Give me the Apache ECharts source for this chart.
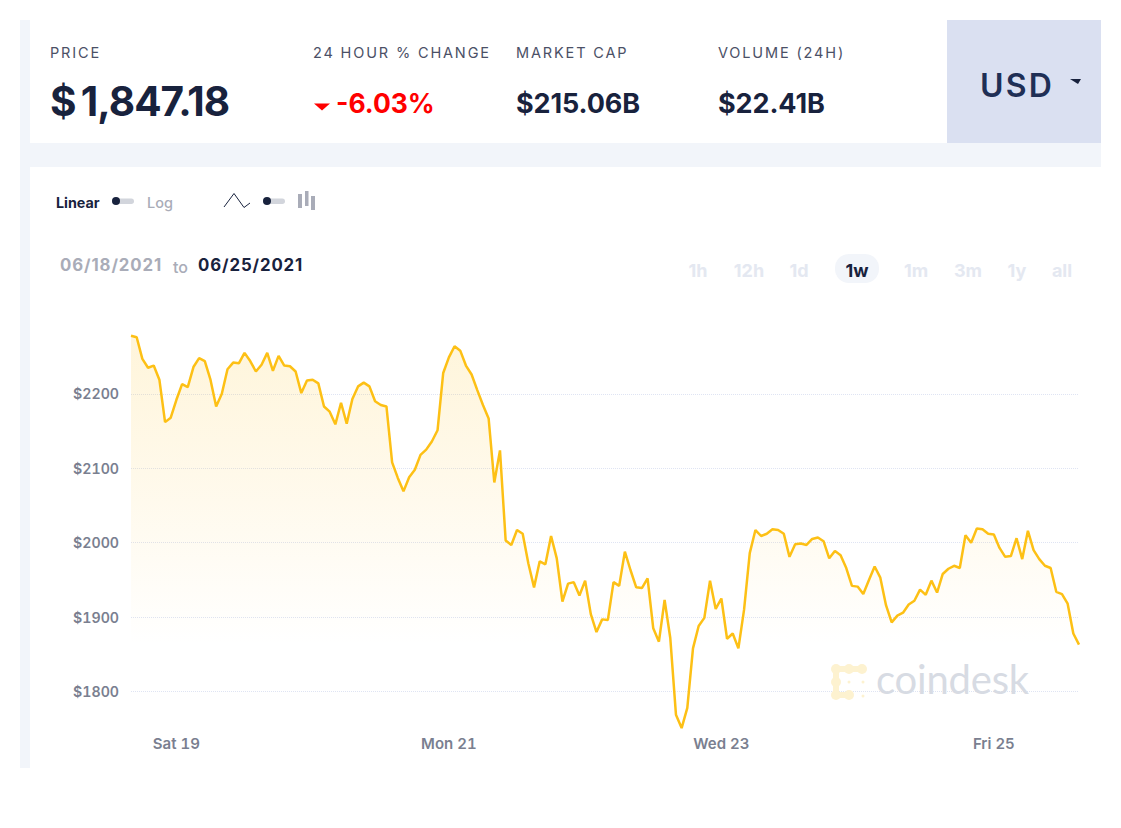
<!DOCTYPE html>
<html><head><meta charset="utf-8">
<script src="https://cdn.jsdelivr.net/npm/echarts@6/dist/echarts.min.js"></script>
<style>
html,body{margin:0;padding:0;width:1121px;height:828px;background:#fff;overflow:hidden;font-family:Inter,sans-serif}
#bg,#bg2,#bg3,#usd{position:absolute}
#bg{left:20px;top:20px;width:1081px;height:748px;background:#f2f5fa}
#bg2{left:30px;top:20px;width:917px;height:123px;background:#fff}
#bg3{left:30px;top:167px;width:1071px;height:601px;background:#fff}
#usd{left:947px;top:20px;width:154px;height:123px;background:#dae0f1}
#chart{position:absolute;left:0;top:0;width:1121px;height:828px}
#chart text{font-feature-settings:'tnum'}
.t{position:absolute;white-space:nowrap;line-height:1;transform:translateY(-50%)}
.lab{font-size:14.5px;letter-spacing:1.85px;color:#4b5066;font-weight:400}
.val{font-size:27px;font-weight:700;color:#18223d;letter-spacing:-.1px}
.rng{font-size:18px;font-weight:700;color:#e4e8f1;transform:translate(-50%,-50%)}
svg.o{position:absolute;overflow:visible;left:0;top:0}
</style></head><body>
<div id="bg"></div><div id="bg2"></div><div id="bg3"></div><div id="usd"></div>
<div id="chart"></div>

<div class="t lab" style="left:50px;top:53px">PRICE</div>
<div class="t" style="left:50px;top:102px;font-size:40.500px;font-weight:700;color:#18223d;letter-spacing:-.9px">$<span style="margin-left:5px">1,847.18</span></div>
<div class="t lab" style="left:313px;top:53px">24 HOUR % CHANGE</div>
<svg class="o" width="1" height="1"><path d="M314 103.500H330L322 110.500Z" fill="#f00"/></svg>
<div class="t" style="left:336px;top:103px;font-size:26.500px;font-weight:700;color:#f00">-6.03%</div>
<div class="t lab" style="left:516px;top:53px">MARKET CAP</div>
<div class="t val" style="left:516px;top:103px">$215.06B</div>
<div class="t lab" style="left:718px;top:53px">VOLUME (24H)</div>
<div class="t val" style="left:718px;top:103px">$22.41B</div>
<div class="t" style="left:980px;top:86px;font-size:32px;font-weight:600;color:#1f2f55;letter-spacing:2.200px">USD</div>
<svg class="o" width="1" height="1"><path d="M1070 79H1081L1078 84Z" fill="#18223d"/></svg>

<div class="t" style="left:56px;top:203px;font-size:14.300px;font-weight:700;color:#18223d">Linear</div>
<svg class="o" width="1" height="1">
<rect x="112" y="198.500" width="22" height="5.500" rx="2.700" fill="#d2d5dc"/><circle cx="116" cy="201" r="4" fill="#18223d"/>
<path d="M224 207L234 193.500L244 207.500L250 203" fill="none" stroke="#18223d" stroke-width="1"/>
<rect x="263" y="198.500" width="22" height="5.500" rx="2.700" fill="#d2d5dc"/><circle cx="267" cy="201" r="4" fill="#18223d"/>
<rect x="298" y="194" width="4" height="14" fill="#a9acb8"/><rect x="305" y="191" width="3.500" height="15" fill="#a9acb8"/><rect x="311" y="196" width="4" height="14" fill="#a9acb8"/>
</svg>
<div class="t" style="left:147px;top:203px;font-size:14.500px;font-weight:500;color:#a9acb8">Log</div>

<div class="t" style="left:60px;top:265px;font-size:16.800px;font-weight:700;color:#a9acb8;letter-spacing:.9px">06/18/2021</div>
<div class="t" style="left:173px;top:267px;font-size:16px;font-weight:500;color:#a9acb8">to</div>
<div class="t" style="left:198px;top:265px;font-size:16.800px;font-weight:700;color:#18223d;letter-spacing:.9px">06/25/2021</div>

<div style="position:absolute;left:835px;top:254px;width:44px;height:29px;border-radius:14px;background:#f2f5fa"></div>
<div class="t rng" style="left:698px;top:271px">1h</div>
<div class="t rng" style="left:749px;top:271px">12h</div>
<div class="t rng" style="left:799px;top:271px">1d</div>
<div class="t rng" style="left:857px;top:271px;color:#18223d">1w</div>
<div class="t rng" style="left:916px;top:271px">1m</div>
<div class="t rng" style="left:968px;top:271px">3m</div>
<div class="t rng" style="left:1017px;top:271px">1y</div>
<div class="t rng" style="left:1062px;top:271px">all</div>

<svg class="o" width="1" height="1"><g fill="#fdf2d0">
<circle cx="836" cy="669" r="5"/><circle cx="849" cy="669" r="5"/><circle cx="862" cy="669" r="5"/>
<circle cx="836" cy="682" r="5"/><circle cx="836" cy="695" r="5"/><circle cx="849" cy="695" r="5"/>
<rect x="833" y="666" width="30" height="6"/><rect x="833" y="666" width="6" height="30"/><rect x="833" y="692" width="17" height="6"/>
<circle cx="849" cy="682" r="1.500"/><circle cx="863" cy="682" r="1.500"/><circle cx="863" cy="696" r="1.500"/></g></svg>
<div class="t" style="left:876px;top:679px;font-size:40px;font-weight:400;color:#d7dbe3;font-family:Lato,sans-serif;letter-spacing:-.2px">coindesk</div>

<script>
var prices = [2278,2276,2247,2235,2238,2219,2162,2168,2192,2213,2209,2236,2248,2244,2219,2183,2200,2233,2242,2241,2255,2244,2230,2239,2255,2231,2251,2238,2237,2230,2201,2218,2219,2214,2183,2176,2159,2188,2160,2193,2210,2215,2210,2190,2185,2183,2108,2087,2069,2088,2098,2118,2125,2136,2151,2228,2249,2264,2258,2238,2226,2205,2185,2167,2081,2124,2003,1997,2017,2012,1972,1940,1975,1971,2009,1979,1921,1945,1947,1929,1949,1904,1880,1897,1896,1947,1942,1988,1963,1940,1939,1952,1885,1867,1923,1872,1769,1751,1778,1858,1888,1899,1949,1911,1925,1871,1878,1858,1910,1986,2017,2009,2012,2018,2017,2012,1981,1998,1999,1997,2005,2007,2002,1979,1989,1983,1966,1942,1941,1931,1950,1968,1953,1916,1893,1902,1906,1917,1922,1937,1930,1949,1933,1958,1965,1969,1966,2010,2000,2019,2018,2012,2011,1993,1981,1982,2006,1978,2016,1990,1978,1969,1966,1934,1931,1918,1878,1863];
var tickTimes = ['06-19 00h','06-21 00h','06-23 00h','06-25 00h'];
var tickLabels = ['Sat 19','Mon 21','Wed 23','Fri 25'];
var startHour = Date.UTC(2021,5,18,16);
var categories = prices.map(function(_,i){
  var d = new Date(startHour + i*3600000), p = function(n){return (n<10?'0':'')+n;};
  return p(d.getUTCMonth()+1)+'-'+p(d.getUTCDate())+' '+p(d.getUTCHours())+'h';
});
var chart = echarts.init(document.getElementById('chart'),null,{renderer:'svg'});
chart.setOption({
  animation:false,
  backgroundColor:'transparent',
  grid:{left:131,right:42,top:319.4,bottom:62},
  xAxis:{type:'category',data:categories,boundaryGap:false,offset:-34.5,
    axisLine:{show:false},axisTick:{show:false},splitLine:{show:false},
    axisLabel:{margin:4,color:'#7a7f90',fontFamily:'Inter',fontWeight:600,fontSize:15,hideOverlap:false,
      interval:function(i,v){return tickTimes.indexOf(v)>=0;},
      formatter:function(v){var k=tickTimes.indexOf(v);return k>=0?tickLabels[k]:'';}}},
  yAxis:{type:'value',min:1700,max:2300,interval:100,
    axisLine:{show:false},axisTick:{show:false},
    splitLine:{show:true,showMinLine:false,showMaxLine:false,lineStyle:{color:'#dfe4f3',type:'dotted',width:1}},
    axisLabel:{margin:12,color:'#7a7f90',fontFamily:'Inter',fontWeight:600,fontSize:14.2,
      formatter:function(v){return (v===1700||v===2300)?'':'$'+v;}}},
  series:[{type:'line',data:prices,symbol:'none',smooth:false,silent:true,
    lineStyle:{color:'#fdc015',width:2.5},
    areaStyle:{color:new echarts.graphic.LinearGradient(0,0,0,1,[
      {offset:0,color:'rgba(253,189,19,0.22)'},
      {offset:0.35,color:'rgba(253,189,19,0.12)'},
      {offset:0.72,color:'rgba(253,189,19,0)'},
      {offset:1,color:'rgba(253,189,19,0)'}])}}]
});
</script>
</body></html>
